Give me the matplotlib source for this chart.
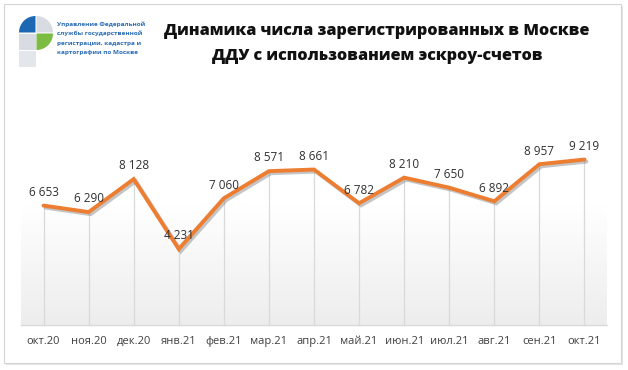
import matplotlib
matplotlib.use("Agg")
import matplotlib.pyplot as plt
import numpy as np
from matplotlib import patheffects as pe
from matplotlib.patches import Wedge, Rectangle
from matplotlib.colors import LinearSegmentedColormap

categories = ["окт.20", "ноя.20", "дек.20", "янв.21", "фев.21", "мар.21", "апр.21",
              "май.21", "июн.21", "июл.21", "авг.21", "сен.21", "окт.21"]
values = [6653, 6290, 8128, 4231, 7060, 8571, 8661, 6782, 8210, 7650, 6892, 8957, 9219]
value_labels = ["6 653", "6 290", "8 128", "4 231", "7 060", "8 571", "8 661",
                "6 782", "8 210", "7 650", "6 892", "8 957", "9 219"]
title_lines = ["Динамика числа зарегистрированных в Москве",
               "ДДУ с использованием эскроу-счетов"]
logo_text = ["Управление Федеральной", "службы государственной",
             "регистрации, кадастра и", "картографии по Москве"]

W, H = 628, 370
fig = plt.figure(figsize=(W / 100, H / 100), dpi=100)
fig.patch.set_facecolor("white")

# overlay axes in pixel coordinates for frame and logo
ov = fig.add_axes([0, 0, 1, 1], zorder=0)
ov.set_xlim(0, W)
ov.set_ylim(0, H)
ov.axis("off")

def Y(y):
    return H - y

# outer frame with light shadow
ov.add_patch(Rectangle((6, Y(365)), 617, 359, facecolor="#e4e4e4", edgecolor="none"))
ov.add_patch(Rectangle((4, Y(363)), 617, 359, facecolor="white", edgecolor="#d4d4d4", lw=0.8))

# logo
blue = "#1d68b3"
green = "#7cbc43"
gray = "#d8dce2"
gray2 = "#e3e6ea"
ov.add_patch(Wedge((35.5, Y(32.5)), 16.5, 90, 180, facecolor=blue, edgecolor="none"))
ov.add_patch(Wedge((36.5, Y(32.5)), 16.5, 0, 90, facecolor=gray, edgecolor="none"))
ov.add_patch(Wedge((36.5, Y(33.5)), 16.5, 270, 360, facecolor=green, edgecolor="none"))
ov.add_patch(Rectangle((19, Y(50)), 16.5, 16.5, facecolor=gray, edgecolor="none"))
ov.add_patch(Rectangle((19, Y(67)), 16.5, 16.5, facecolor=gray2, edgecolor="none"))
for i, t in enumerate(logo_text):
    ov.text(57, Y(24 + i * 9.5), t, fontsize=4.6, fontweight="bold", color="#2a6cb5",
            family="Open Sans", va="center", ha="left")

# title
for i, t in enumerate(title_lines):
    ov.text(377, Y(31 + i * 25), t, fontsize=11.6, fontweight="heavy", color="#111111",
            family="Open Sans", va="center", ha="center")

# chart axes
left, right = 21 / W, 607 / W
bottom, top = (H - 325) / H, (H - 145.5) / H
ax = fig.add_axes([left, bottom, right - left, top - bottom], zorder=1)
ax.set_facecolor("none")
x = np.arange(len(categories))
ax.set_xlim(-0.5, len(categories) - 0.5)
ax.set_ylim(0, 10000)

cmap = LinearSegmentedColormap.from_list("g", ["#ededed", "#f6f6f6", "#ffffff", "#ffffff"])
grad = np.linspace(0, 1, 256).reshape(-1, 1)
ax.imshow(grad, extent=[-0.5, len(categories) - 0.5, 0, 10000], origin="lower",
          aspect="auto", cmap=cmap, zorder=0)

ax.vlines(x, 0, values, color="#d9d9d9", lw=0.9, zorder=1)
ax.plot(x, values, color="#ED7D31", lw=2.8, solid_joinstyle="miter", solid_capstyle="round",
        zorder=3,
        path_effects=[pe.SimpleLineShadow(offset=(1.5, -1.5), shadow_color="#808080", alpha=0.45),
                      pe.Normal()])

for xi, v, lab in zip(x, values, value_labels):
    ax.annotate(lab, (xi, v), xytext=(0, 9.5), textcoords="offset points",
                ha="center", va="center", fontsize=8.5, color="#303030", family="Open Sans",
                zorder=4)

ax.set_xticks(x)
ax.set_xticklabels(categories, fontsize=8, color="#404040", family="Open Sans")
ax.tick_params(axis="x", length=0, pad=8)
ax.set_yticks([])
for s in ["top", "left", "right"]:
    ax.spines[s].set_visible(False)
ax.spines["bottom"].set_color("#d9d9d9")
ax.spines["bottom"].set_linewidth(1)
ax.spines["bottom"].set_zorder(2)

fig.savefig("out.png", dpi=100, facecolor="white")
